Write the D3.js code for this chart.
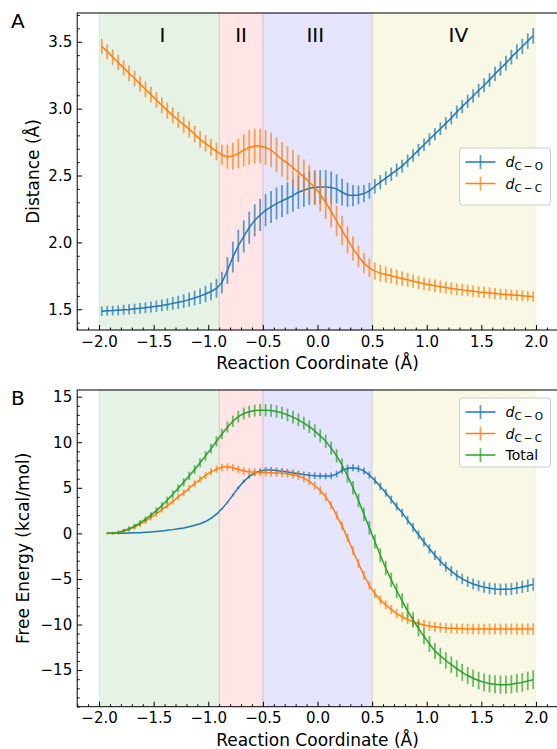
<!DOCTYPE html>
<html>
<head>
<meta charset="utf-8">
<script src="https://cdn.jsdelivr.net/npm/d3@7"></script>
<style>
  html, body { margin: 0; padding: 0; background: #fff; }
  svg { display: block; font-family: "DejaVu Sans", sans-serif; }
</style>
</head>
<body>
<svg id="chart" width="557" height="749"></svg>
<script>
// ---------------- DATA ----------------
const xCoord = [-1.975,-1.925,-1.875,-1.825,-1.775,-1.725,-1.675,-1.625,-1.575,-1.525,
  -1.475,-1.425,-1.375,-1.325,-1.275,-1.225,-1.175,-1.125,-1.075,-1.025,
  -0.975,-0.925,-0.875,-0.825,-0.775,-0.725,-0.675,-0.625,-0.575,-0.525,
  -0.475,-0.425,-0.375,-0.325,-0.275,-0.225,-0.175,-0.125,-0.075,-0.025,
  0.025,0.075,0.125,0.175,0.225,0.275,0.325,0.375,0.425,0.475,
  0.525,0.575,0.625,0.675,0.725,0.775,0.825,0.875,0.925,0.975,
  1.025,1.075,1.125,1.175,1.225,1.275,1.325,1.375,1.425,1.475,
  1.525,1.575,1.625,1.675,1.725,1.775,1.825,1.875,1.925,1.975];

// Panel A: distances (Å)
const dCO = [1.485,1.488,1.490,1.493,1.496,1.499,1.503,1.507,1.512,1.517,
  1.523,1.529,1.536,1.544,1.552,1.561,1.572,1.584,1.598,1.614,
  1.633,1.656,1.700,1.790,1.890,1.975,2.045,2.110,2.165,2.205,
  2.240,2.265,2.290,2.310,2.330,2.350,2.375,2.390,2.405,2.410,
  2.415,2.415,2.410,2.400,2.375,2.355,2.350,2.355,2.365,2.385,
  2.420,2.450,2.480,2.510,2.540,2.570,2.610,2.650,2.690,2.730,
  2.770,2.810,2.850,2.890,2.930,2.975,3.015,3.055,3.095,3.135,
  3.175,3.215,3.260,3.300,3.340,3.385,3.425,3.465,3.505,3.545];
const dCOErr = [0.035,0.036,0.036,0.037,0.037,0.038,0.039,0.040,0.041,0.042,
  0.043,0.044,0.045,0.047,0.049,0.051,0.053,0.055,0.058,0.061,
  0.065,0.070,0.080,0.100,0.115,0.120,0.120,0.120,0.120,0.120,
  0.120,0.120,0.120,0.120,0.120,0.120,0.125,0.125,0.125,0.125,
  0.125,0.125,0.120,0.110,0.100,0.090,0.080,0.070,0.065,0.060,
  0.055,0.053,0.051,0.050,0.049,0.048,0.047,0.047,0.046,0.046,
  0.046,0.046,0.047,0.047,0.048,0.048,0.049,0.050,0.050,0.051,
  0.052,0.052,0.053,0.054,0.055,0.055,0.056,0.057,0.058,0.059];
const dCC = [3.465,3.425,3.385,3.345,3.305,3.265,3.225,3.185,3.145,3.105,
  3.065,3.025,2.985,2.950,2.915,2.880,2.845,2.810,2.770,2.740,
  2.710,2.680,2.655,2.640,2.645,2.665,2.690,2.710,2.720,2.720,
  2.710,2.690,2.655,2.620,2.590,2.560,2.525,2.490,2.450,2.410,
  2.360,2.300,2.230,2.160,2.090,2.020,1.955,1.895,1.845,1.810,
  1.785,1.770,1.760,1.750,1.740,1.730,1.720,1.710,1.700,1.690,
  1.683,1.676,1.669,1.662,1.656,1.650,1.645,1.640,1.635,1.630,
  1.626,1.622,1.618,1.614,1.610,1.607,1.604,1.601,1.598,1.595];
const dCCErr = [0.056,0.056,0.057,0.057,0.057,0.058,0.058,0.058,0.059,0.059,
  0.059,0.060,0.060,0.060,0.061,0.061,0.061,0.062,0.062,0.062,
  0.063,0.065,0.075,0.090,0.100,0.110,0.120,0.130,0.130,0.130,
  0.130,0.130,0.130,0.130,0.130,0.130,0.130,0.130,0.130,0.130,
  0.130,0.125,0.120,0.115,0.110,0.100,0.090,0.080,0.075,0.070,
  0.065,0.062,0.060,0.058,0.056,0.054,0.052,0.050,0.049,0.048,
  0.047,0.046,0.046,0.045,0.045,0.044,0.044,0.043,0.043,0.042,
  0.042,0.041,0.041,0.040,0.040,0.039,0.039,0.039,0.038,0.038];

// Panel B: free energy (kcal/mol), starts at second grid point
const xFE = xCoord.slice(1);
const feCO = [0.00,0.00,0.01,0.02,0.04,0.06,0.08,0.11,0.15,
  0.20,0.26,0.33,0.41,0.50,0.60,0.73,0.88,1.06,1.30,
  1.65,2.10,2.70,3.40,4.20,5.00,5.70,6.25,6.62,6.85,
  6.95,6.95,6.90,6.82,6.73,6.65,6.55,6.45,6.38,6.33,
  6.30,6.28,6.30,6.50,6.90,7.15,7.20,7.10,6.85,6.40,
  5.80,5.15,4.45,3.70,2.95,2.25,1.45,0.65,-0.15,-0.95,
  -1.70,-2.40,-3.05,-3.65,-4.15,-4.60,-5.00,-5.30,-5.55,-5.75,
  -5.90,-6.02,-6.10,-6.14,-6.14,-6.10,-6.00,-5.88,-5.75,-5.60];
const feCOErr = [0,0,0,0,0,0,0,0,0,
  0,0,0,0,0,0,0,0,0,0.02,
  0.04,0.06,0.08,0.10,0.13,0.16,0.20,0.24,0.28,0.30,
  0.32,0.33,0.33,0.33,0.34,0.34,0.34,0.34,0.35,0.35,
  0.35,0.35,0.36,0.36,0.37,0.37,0.38,0.38,0.39,0.40,
  0.41,0.42,0.43,0.44,0.45,0.46,0.47,0.48,0.49,0.50,
  0.51,0.52,0.53,0.54,0.55,0.56,0.57,0.58,0.59,0.60,
  0.61,0.62,0.63,0.64,0.65,0.66,0.67,0.68,0.69,0.70];
const feCC = [0.00,0.02,0.10,0.25,0.45,0.70,1.00,1.35,1.75,
  2.15,2.60,3.05,3.50,4.00,4.45,4.95,5.45,5.90,6.35,
  6.75,7.05,7.25,7.30,7.20,7.00,6.85,6.75,6.70,6.68,
  6.66,6.64,6.62,6.60,6.55,6.45,6.30,6.05,5.70,5.25,
  4.70,4.00,3.10,2.00,0.80,-0.50,-1.90,-3.30,-4.60,-5.70,
  -6.60,-7.30,-7.85,-8.35,-8.80,-9.15,-9.45,-9.70,-9.90,-10.05,
  -10.17,-10.26,-10.33,-10.38,-10.42,-10.45,-10.47,-10.49,-10.50,-10.50,
  -10.50,-10.50,-10.50,-10.50,-10.50,-10.50,-10.50,-10.50,-10.50,-10.50];
const feCCErr = [0.10,0.15,0.20,0.25,0.28,0.30,0.31,0.32,0.33,
  0.34,0.35,0.35,0.36,0.36,0.37,0.37,0.38,0.38,0.39,
  0.39,0.40,0.40,0.40,0.40,0.41,0.41,0.41,0.42,0.42,
  0.42,0.43,0.43,0.43,0.44,0.44,0.44,0.45,0.45,0.45,
  0.46,0.46,0.46,0.47,0.47,0.47,0.48,0.48,0.48,0.49,
  0.49,0.50,0.50,0.50,0.51,0.51,0.52,0.52,0.53,0.53,
  0.54,0.54,0.55,0.55,0.56,0.56,0.57,0.57,0.58,0.58,
  0.59,0.59,0.60,0.60,0.61,0.61,0.62,0.62,0.63,0.63];
const feTotal = [0.00,0.02,0.10,0.27,0.50,0.80,1.15,1.55,2.00,
  2.50,3.05,3.65,4.30,4.95,5.60,6.30,7.00,7.75,8.50,
  9.30,10.10,10.90,11.65,12.30,12.80,13.15,13.35,13.47,13.52,
  13.52,13.48,13.38,13.22,13.00,12.75,12.45,12.10,11.70,11.25,
  10.70,10.10,9.35,8.50,7.50,6.30,5.00,3.60,2.10,0.60,
  -0.90,-2.40,-3.80,-5.10,-6.30,-7.40,-8.50,-9.50,-10.45,-11.30,
  -12.15,-12.90,-13.45,-13.95,-14.40,-14.85,-15.25,-15.60,-15.90,-16.15,
  -16.35,-16.48,-16.56,-16.60,-16.60,-16.55,-16.45,-16.35,-16.20,-16.05];
const feTotalErr = [0.10,0.15,0.20,0.22,0.24,0.26,0.28,0.30,0.32,
  0.34,0.36,0.38,0.40,0.42,0.44,0.46,0.48,0.50,0.52,
  0.54,0.56,0.58,0.60,0.62,0.64,0.65,0.66,0.66,0.67,
  0.67,0.68,0.68,0.68,0.69,0.69,0.70,0.70,0.70,0.71,
  0.71,0.72,0.72,0.73,0.73,0.74,0.74,0.75,0.75,0.76,
  0.77,0.78,0.79,0.80,0.81,0.82,0.83,0.84,0.85,0.86,
  0.87,0.88,0.89,0.90,0.91,0.92,0.93,0.94,0.95,0.96,
  0.97,0.98,0.99,1.00,1.00,1.01,1.01,1.02,1.02,1.03];

// Regions
const regionStart = [-2.0, -0.9, -0.5, 0.5];
const regionEnd   = [-0.9, -0.5, 0.5, 2.0];
const regionNames = ["I", "II", "III", "IV"];
const regionLabelX = [-1.42, -0.70, -0.02, 1.29];
const regionColors = ["#008000", "#ff0000", "#0000ff", "#bfbf00"];

// Ticks
const xTicks = [-2.0, -1.5, -1.0, -0.5, 0.0, 0.5, 1.0, 1.5, 2.0];
const yTicksA = [1.5, 2.0, 2.5, 3.0, 3.5];
const yTicksB = [-15, -10, -5, 0, 5, 10, 15];

const colCO = "#1f77b4", colCC = "#ff7f0e", colTot = "#2ca02c";

// ---------------- DRAW ----------------
const svg = d3.select("#chart");
const left = 77.2, right = 557.8;
const x = d3.scaleLinear().domain([-2.2, 2.2]).range([left, right]);

const panels = [
  { top: 13, bottom: 330, domain: [1.345, 3.715], ticks: yTicksA, minorStep: 0.1,
    fmt: d => d3.format(".1f")(d), ylabel: "Distance (Å)", ylabelX: 39, letter: "A", letterY: 28,
    series: [
      { x: xCoord, y: dCO, e: dCOErr, c: colCO },
      { x: xCoord, y: dCC, e: dCCErr, c: colCC }
    ],
    legend: [{ name: "d", sub: "C\u2009\u2212\u2009O", c: colCO }, { name: "d", sub: "C\u2009\u2212\u2009C", c: colCC }],
    legendBox: { x: 459.5, y: 148, w: 91, h: 57 }, romans: true },
  { top: 390, bottom: 706.7, domain: [-19.02, 15.73], ticks: yTicksB, minorStep: 1,
    fmt: d => d3.format("d")(d).replace("-", "\u2212"), ylabel: "Free Energy (kcal/mol)", ylabelX: 29, letter: "B", letterY: 405,
    series: [
      { x: xFE, y: feCO, e: feCOErr, c: colCO },
      { x: xFE, y: feCC, e: feCCErr, c: colCC },
      { x: xFE, y: feTotal, e: feTotalErr, c: colTot }
    ],
    legend: [{ name: "d", sub: "C\u2009\u2212\u2009O", c: colCO }, { name: "d", sub: "C\u2009\u2212\u2009C", c: colCC }, { name: "Total", c: colTot }],
    legendBox: { x: 459.5, y: 398, w: 91, h: 69 }, romans: false }
];

panels.forEach(p => {
  const y = d3.scaleLinear().domain(p.domain).range([p.bottom, p.top]);
  const g = svg.append("g");

  // shaded regions
  regionStart.forEach((s, i) => {
    g.append("rect")
      .attr("x", x(s)).attr("y", p.top)
      .attr("width", x(regionEnd[i]) - x(s)).attr("height", p.bottom - p.top)
      .attr("fill", regionColors[i]).attr("fill-opacity", 0.1)
      .attr("stroke", regionColors[i]).attr("stroke-opacity", 0.1).attr("stroke-width", 1);
  });

  if (p.romans) {
    regionNames.forEach((n, i) => {
      g.append("text").attr("x", x(regionLabelX[i])).attr("y", 41.7)
        .attr("text-anchor", "middle").attr("font-size", 20).attr("fill", "#000").text(n);
    });
  }

  // series
  p.series.forEach(s => {
    const sg = g.append("g");
    sg.selectAll("line.err").data(s.y).enter().append("line")
      .attr("x1", (d, i) => x(s.x[i])).attr("x2", (d, i) => x(s.x[i]))
      .attr("y1", (d, i) => y(d - s.e[i])).attr("y2", (d, i) => y(d + s.e[i]))
      .attr("stroke", s.c).attr("stroke-width", 1.8).attr("stroke-opacity", 0.7);
    const line = d3.line().x((d, i) => x(s.x[i])).y(d => y(d));
    sg.append("path").attr("d", line(s.y)).attr("fill", "none")
      .attr("stroke", s.c).attr("stroke-width", 1.5);
  });

  // axes
  const xMinor = d3.range(-22, 23).map(v => v / 10).filter(v => !xTicks.some(t => Math.abs(t - v) < 1e-9));
  const xAxis = d3.axisBottom(x).tickValues(xTicks).tickSize(-5).tickPadding(6)
    .tickFormat(d => d3.format(".1f")(d).replace("-", "\u2212"));
  const gx = g.append("g").attr("transform", `translate(0,${p.bottom})`).call(xAxis);
  gx.select(".domain").remove();
  gx.selectAll("text").attr("font-size", 15).attr("fill", "#000").attr("font-family", "DejaVu Sans");
  gx.selectAll("line").attr("stroke", "#000");
  const gxm = g.append("g").attr("transform", `translate(0,${p.bottom})`)
    .call(d3.axisBottom(x).tickValues(xMinor).tickSize(-2.5).tickFormat(""));
  gxm.select(".domain").remove();
  gxm.selectAll("line").attr("stroke", "#000");

  const lo = p.domain[0], hi = p.domain[1];
  const yMinor = d3.range(Math.ceil(lo / p.minorStep), Math.floor(hi / p.minorStep) + 1)
    .map(k => +(k * p.minorStep).toFixed(3)).filter(v => !p.ticks.some(t => Math.abs(t - v) < 1e-9));
  const gy = g.append("g").attr("transform", `translate(${left},0)`)
    .call(d3.axisLeft(y).tickValues(p.ticks).tickSize(-5).tickPadding(5).tickFormat(p.fmt));
  gy.select(".domain").remove();
  gy.selectAll("text").attr("font-size", 15).attr("fill", "#000").attr("font-family", "DejaVu Sans");
  gy.selectAll("line").attr("stroke", "#000");
  const gym = g.append("g").attr("transform", `translate(${left},0)`)
    .call(d3.axisLeft(y).tickValues(yMinor).tickSize(-2.5).tickFormat(""));
  gym.select(".domain").remove();
  gym.selectAll("line").attr("stroke", "#000");

  // frame
  g.append("rect").attr("x", left).attr("y", p.top).attr("width", right - left).attr("height", p.bottom - p.top)
    .attr("fill", "none").attr("stroke", "#000").attr("stroke-width", 1);

  // labels
  g.append("text").attr("x", x(0)).attr("y", p.bottom + 39)
    .attr("text-anchor", "middle").attr("font-size", 17).attr("fill", "#000").text("Reaction Coordinate (Å)");
  g.append("text").attr("transform", `translate(${p.ylabelX},${(p.top + p.bottom) / 2}) rotate(-90)`)
    .attr("text-anchor", "middle").attr("font-size", 17).attr("fill", "#000").text(p.ylabel);
  g.append("text").attr("x", 11).attr("y", p.letterY).attr("font-size", 20).attr("fill", "#000").text(p.letter);

  // legend
  const lb = p.legendBox;
  const lg = g.append("g");
  lg.append("rect").attr("x", lb.x).attr("y", lb.y).attr("width", lb.w).attr("height", lb.h)
    .attr("rx", 3).attr("fill", "#fff").attr("fill-opacity", 0.8).attr("stroke", "#cccccc").attr("stroke-width", 1);
  p.legend.forEach((L, i) => {
    const cy = lb.y + 14 + i * 21.5;
    lg.append("line").attr("x1", lb.x + 6).attr("x2", lb.x + 36).attr("y1", cy).attr("y2", cy)
      .attr("stroke", L.c).attr("stroke-width", 1.5);
    lg.append("line").attr("x1", lb.x + 21).attr("x2", lb.x + 21).attr("y1", cy - 7).attr("y2", cy + 7)
      .attr("stroke", L.c).attr("stroke-width", 1.8).attr("stroke-opacity", 0.7);
    const t = lg.append("text").attr("x", lb.x + 46).attr("y", cy + 5).attr("font-size", 14).attr("fill", "#000");
    if (L.sub) {
      t.append("tspan").attr("font-style", "italic").text(L.name);
      t.append("tspan").attr("font-size", 10.5).attr("dy", 3).text(L.sub);
    } else {
      t.text(L.name);
    }
  });
});
</script>
</body>
</html>
